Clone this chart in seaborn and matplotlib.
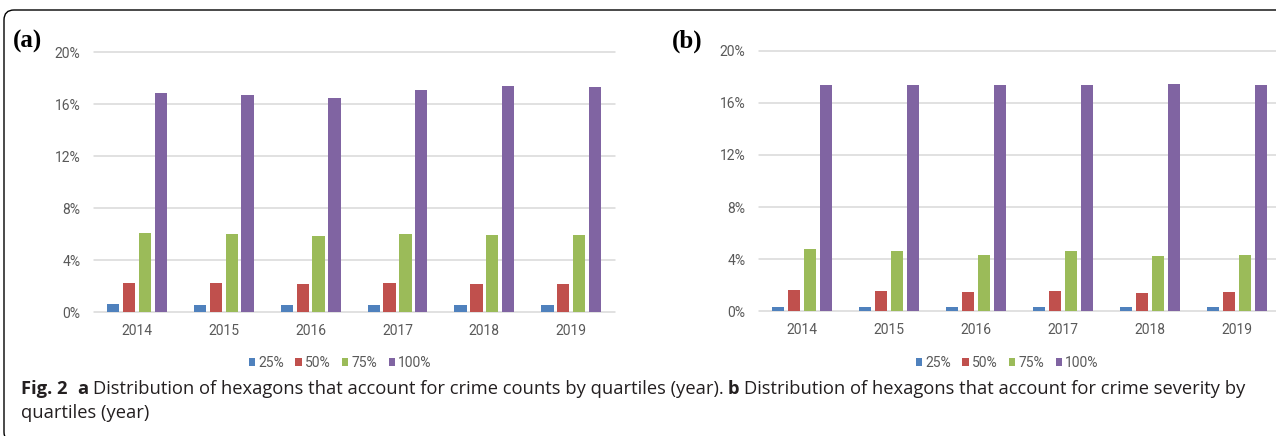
import numpy as np
import pandas as pd
import matplotlib
matplotlib.use("Agg")
import matplotlib.pyplot as plt
import seaborn as sns
from matplotlib.patches import FancyBboxPatch
from matplotlib.transforms import IdentityTransform
from matplotlib.ticker import FuncFormatter

# ---- data (percent of hexagons) ----
years = ["2014", "2015", "2016", "2017", "2018", "2019"]
quartiles = ["25%", "50%", "75%", "100%"]

counts_25 = [0.64, 0.54, 0.54, 0.54, 0.54, 0.54]
counts_50 = [2.23, 2.23, 2.15, 2.23, 2.15, 2.15]
counts_75 = [6.10, 6.00, 5.85, 6.00, 5.92, 5.92]
counts_100 = [16.85, 16.69, 16.51, 17.10, 17.44, 17.36]

severity_25 = [0.31, 0.31, 0.31, 0.31, 0.31, 0.31]
severity_50 = [1.64, 1.56, 1.48, 1.56, 1.41, 1.48]
severity_75 = [4.76, 4.60, 4.32, 4.60, 4.25, 4.32]
severity_100 = [17.34, 17.34, 17.34, 17.34, 17.44, 17.34]

y_ticks = [0, 4, 8, 12, 16, 20]

colors = ["#4F81BD", "#C0504D", "#9BBB59", "#8064A2"]


def long_table(series):
    rows = []
    for q, vals in zip(quartiles, series):
        for yr, v in zip(years, vals):
            rows.append({"year": yr, "quartile": q, "share": v})
    return pd.DataFrame(rows)


df_counts = long_table([counts_25, counts_50, counts_75, counts_100])
df_severity = long_table([severity_25, severity_50, severity_75, severity_100])

sns.set_style("white")
plt.rcParams["font.family"] = ["Roboto", "DejaVu Sans"]

W, H = 1276, 436
fig = plt.figure(figsize=(W / 100, H / 100), dpi=100)


def px_axes(left, right, top, bottom):
    return fig.add_axes([left / W, 1 - bottom / H, (right - left) / W, (bottom - top) / H])


ax_a = px_axes(93.6, 614.5, 52.3, 312.3)
ax_b = px_axes(758.5, 1280.5, 50.7, 311.3)

tick_color = "#595959"
grid_color = "#D9D9D9"

for ax, df in [(ax_a, df_counts), (ax_b, df_severity)]:
    sns.barplot(data=df, x="year", y="share", hue="quartile",
                order=years, hue_order=quartiles, palette=colors,
                width=0.73, gap=0.22, saturation=1, ax=ax,
                legend=False, edgecolor="none", linewidth=0, zorder=3)
    ax.set_ylim(0, 20)
    ax.set_xlim(-0.5, len(years) - 0.5)
    ax.set_yticks(y_ticks)
    ax.yaxis.set_major_formatter(FuncFormatter(lambda v, p: f"{v:.0f}%"))
    ax.set_xlabel("")
    ax.set_ylabel("")
    for s in ax.spines.values():
        s.set_visible(False)
    ax.yaxis.grid(True, color=grid_color, linewidth=1.1, zorder=0)
    ax.xaxis.grid(False)
    for gl in ax.get_ygridlines():
        gl.set_clip_on(False)
    ax.tick_params(axis="both", length=0, labelsize=10, colors=tick_color)
    ax.tick_params(axis="y", pad=9.5)
    ax.tick_params(axis="x", pad=8.5)
    ax.set_facecolor("none")

# legends beneath each panel
handles = [plt.Rectangle((0, 0), 1, 1, facecolor=c, edgecolor="none") for c in colors]
for cx in (340, 1007):
    fig.legend(handles, quartiles, loc="center", bbox_to_anchor=(cx / W, 1 - 363 / H),
               ncol=4, frameon=False, fontsize=10, labelcolor=tick_color,
               handlelength=0.45, handleheight=0.55, handletextpad=0.2,
               columnspacing=0.85, borderpad=0)

# panel tags
tag_font = dict(family=["Liberation Serif", "DejaVu Serif"], fontweight="bold",
                fontsize=18, color="black", va="center", ha="left")
fig.text(13 / W, 1 - 41.5 / H, "(a)", **tag_font)
fig.text(671.5 / W, 1 - 41 / H, "(b)", **tag_font)

# caption, built from bold and regular runs laid out left to right
cap_family = ["Open Sans", "DejaVu Sans"]
cap_size = 13.2
cap_color = "#231F20"
base1, base2 = 394, 418
line1 = [
    ("Fig. 2", "bold", 0),
    ("a", "bold", 10),
    ("Distribution of hexagons that account for crime counts by quartiles (year).", "normal", 4.5),
    ("b", "bold", 4.5),
    ("Distribution of hexagons that account for crime severity by", "normal", 4.5),
]
cap_texts = []
for txt, wt, gap in line1:
    cap_texts.append(fig.text(0, 1 - base1 / H, txt, fontsize=cap_size, fontweight=wt,
                              family=cap_family, color=cap_color, ha="left", va="baseline"))
fig.canvas.draw()
renderer = fig.canvas.get_renderer()
x_px = 20.7
for t, (txt, wt, gap) in zip(cap_texts, line1):
    x_px += gap
    t.set_position((x_px / W, 1 - base1 / H))
    x_px += t.get_window_extent(renderer).width
fig.text(20.7 / W, 1 - base2 / H, "quartiles (year)", fontsize=cap_size, family=cap_family,
         color=cap_color, ha="left", va="baseline")

# rounded frame around the figure
frame = FancyBboxPatch((4, -6), 1320, (H - 10) + 6, boxstyle="round,pad=0,rounding_size=10",
                       transform=IdentityTransform(), facecolor="none", edgecolor="black",
                       linewidth=1.0, clip_on=False)
fig.patches.append(frame)

fig.savefig("out.png", dpi=100)
